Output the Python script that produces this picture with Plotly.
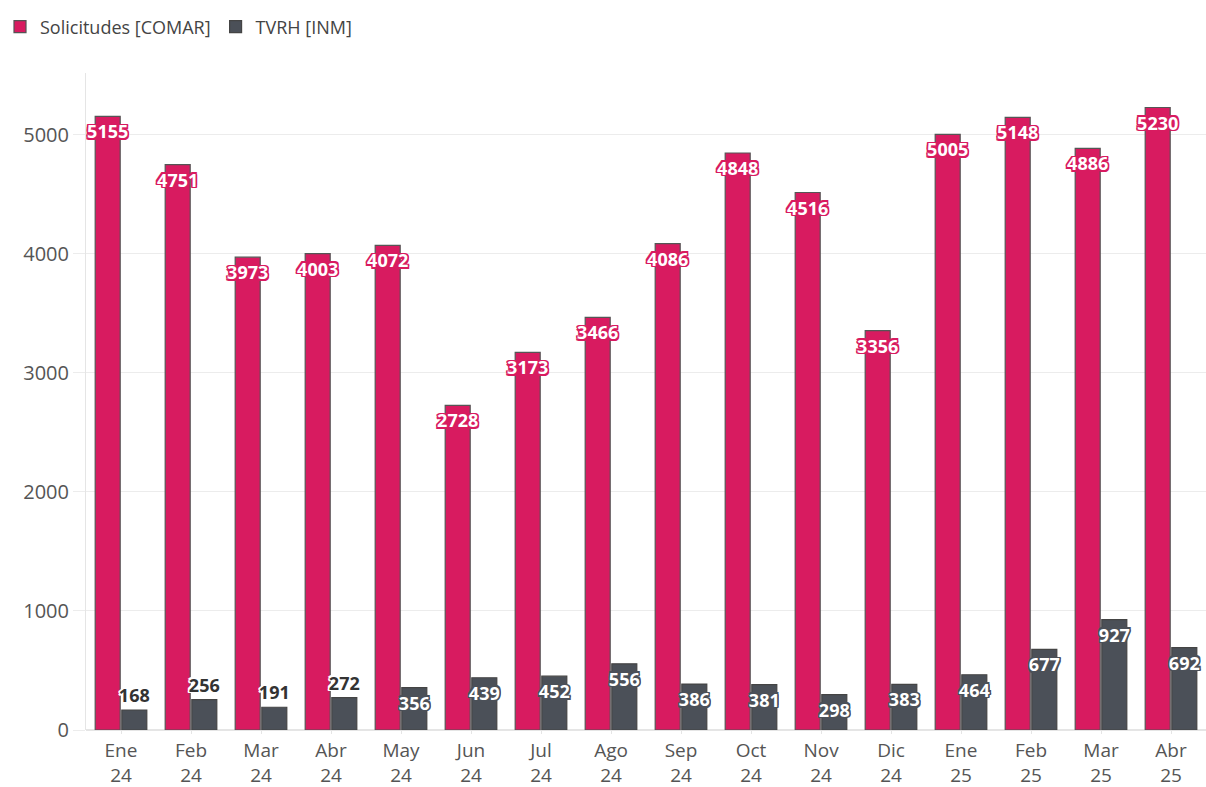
import plotly.graph_objects as go

months = ["Ene<br>24", "Feb<br>24", "Mar<br>24", "Abr<br>24", "May<br>24", "Jun<br>24",
          "Jul<br>24", "Ago<br>24", "Sep<br>24", "Oct<br>24", "Nov<br>24", "Dic<br>24",
          "Ene<br>25", "Feb<br>25", "Mar<br>25", "Abr<br>25"]
solicitudes = [5155, 4751, 3973, 4003, 4072, 2728, 3173, 3466, 4086, 4848, 4516, 3356,
               5005, 5148, 4886, 5230]
tvrh = [168, 256, 191, 272, 356, 439, 452, 556, 386, 381, 298, 383, 464, 677, 927, 692]
tvrh_pos = ["outside", "outside", "outside", "outside"] + ["inside"] * 12

PINK = "#D81B60"
GRAY = "#4B5058"
FONT = "Open Sans"

def outline(c, w=1.5):
    s = []
    for dx in (-w, 0, w):
        for dy in (-w, 0, w):
            if dx or dy:
                s.append(f"{dx}px {dy}px 0 {c}")
    return ", ".join(s)

fig = go.Figure()
fig.add_trace(go.Bar(
    x=months, y=solicitudes, name="Solicitudes [COMAR]",
    marker=dict(color=PINK, line=dict(color="#555", width=1.2)),
    text=[str(v) for v in solicitudes], texttemplate="%{text}",
    textposition="inside", insidetextanchor="end", textangle=0,
    constraintext="none", cliponaxis=False,
    insidetextfont=dict(family=FONT, size=18, color="white", weight="bold",
                        shadow=outline(PINK)),
    hoverinfo="skip",
))
fig.add_trace(go.Bar(
    x=months, y=tvrh, name="TVRH [INM]",
    marker=dict(color=GRAY, line=dict(color="#444", width=1.2)),
    text=[str(v) for v in tvrh], texttemplate="%{text}",
    textposition=tvrh_pos, insidetextanchor="end", textangle=0,
    constraintext="none", cliponaxis=False,
    insidetextfont=dict(family=FONT, size=18, color="white", weight="bold",
                        shadow=outline(GRAY)),
    outsidetextfont=dict(family=FONT, size=18, color="#333", weight="bold",
                         shadow=outline("white")),
    hoverinfo="skip",
))

fig.update_layout(
    width=1206, height=787,
    margin=dict(l=86, r=0, t=73, b=57, autoexpand=False),
    paper_bgcolor="white", plot_bgcolor="white",
    barmode="group", bargap=0.24, bargroupgap=0.06,
    font=dict(family=FONT, size=18, color="#555"),
    legend=dict(orientation="h", x=0, xanchor="left", xref="container",
                y=1.07, yanchor="middle", font=dict(size=18, color="#444"),
                itemwidth=30, traceorder="normal"),
    xaxis=dict(showgrid=False, ticks="outside", ticklen=3, tickcolor="#e5e5e5",
               showline=False, tickfont=dict(size=19, color="#555")),
    yaxis=dict(range=[0, 5520], dtick=1000, tickformat="d", gridcolor="#ececec",
               showline=True, linecolor="#e5e5e5", zeroline=True,
               zerolinecolor="#e5e5e5", ticks="outside", ticklen=12,
               tickcolor="#ececec", tickfont=dict(size=20, color="#555")),
)

fig.write_html("out.html", config={"displayModeBar": False},
               post_script="document.body.style.margin='0';document.body.style.overflow='hidden';")
